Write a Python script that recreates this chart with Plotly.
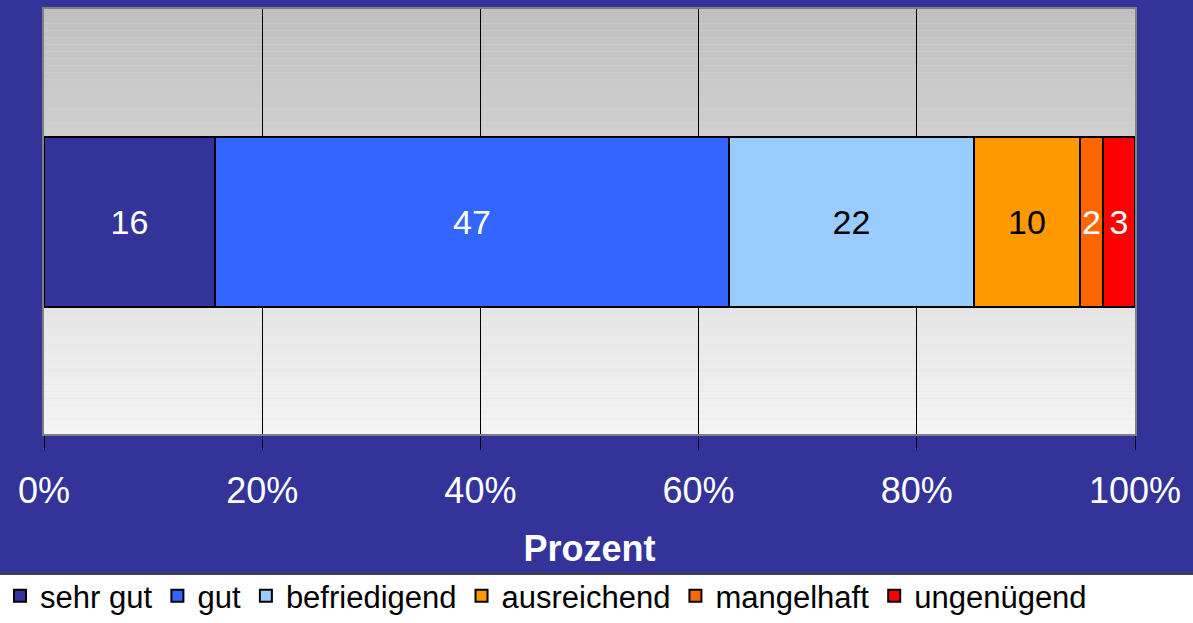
import plotly.graph_objects as go

categories = ["sehr gut", "gut", "befriedigend", "ausreichend", "mangelhaft", "ungenügend"]
values = [15.7, 47.1, 22.4, 9.8, 2.1, 2.9]
colors = ["#333399", "#3366FF", "#99CCFF", "#FF9900", "#FF6600", "#FF0000"]
text_colors = ["white", "white", "black", "black", "white", "white"]
tick_vals = [0, 20, 40, 60, 80, 100]
tick_text = ["0%", "20%", "40%", "60%", "80%", "100%"]
axis_title = "Prozent"

FONT = "Liberation Sans, Arial, sans-serif"
BG = "#333399"

fig = go.Figure()
for name, v, c, tc in zip(categories, values, colors, text_colors):
    fig.add_trace(go.Bar(
        y=["Row"], x=[v], name=name, orientation="h",
        marker=dict(color=c, line=dict(color="black", width=2)),
        width=0.4,
        texttemplate="%{x:.0f}", textposition="inside", insidetextanchor="middle",
        textfont=dict(color=tc, size=34, family=FONT),
        hoverinfo="skip",
    ))

# vertical gradient plot background (gray top -> light bottom)
shapes = []
n = 60
top = (0xC0, 0xC0, 0xC0)
bot = (0xF4, 0xF4, 0xF4)
for i in range(n):
    t = i / (n - 1)
    r = int(round(top[0] + (bot[0] - top[0]) * t))
    col = f"rgb({r},{r},{r})"
    y1 = 1 - i / n
    y0 = 1 - (i + 1) / n
    shapes.append(dict(type="rect", xref="paper", yref="paper", x0=0, x1=1,
                       y0=y0, y1=y1, fillcolor=col, line=dict(width=0), layer="below"))

# white legend strip at bottom
shapes.append(dict(type="rect", xref="paper", yref="paper", x0=-0.06, x1=1.08,
                   y0=-0.6, y1=-0.3294, fillcolor="white",
                   line=dict(width=0), layer="below"))
shapes.append(dict(type="line", xref="paper", yref="paper", x0=-0.06, x1=1.08,
                   y0=-0.3294, y1=-0.3294, line=dict(color="#404040", width=2),
                   layer="below"))

fig.update_layout(
    width=1193, height=623,
    barmode="stack",
    paper_bgcolor=BG, plot_bgcolor="#dddddd",
    margin=dict(l=44, r=58, t=9, b=189),
    font=dict(family=FONT, color="white"),
    shapes=shapes,
    bargap=0,
    showlegend=True,
    legend=dict(orientation="h", xref="container", yref="container",
                x=0.0, y=-0.025, xanchor="left", yanchor="bottom",
                font=dict(size=31, color="black", family=FONT),
                bgcolor="rgba(0,0,0,0)", traceorder="normal",
                tracegroupgap=0, borderwidth=0,
                itemclick=False, itemdoubleclick=False),
    uniformtext=dict(minsize=34, mode="show"),
)

fig.update_xaxes(
    range=[0, 100], tickvals=tick_vals, ticktext=tick_text,
    showgrid=True, gridcolor="black", gridwidth=1,
    ticks="outside", ticklen=14, tickcolor="black", tickwidth=1,
    tickfont=dict(size=36, color="white", family=FONT),
    ticklabelstandoff=10,
    showline=True, linecolor="#808080", linewidth=2, mirror=True,
    zeroline=False,
    automargin=False,
    title=dict(text="<b>" + axis_title + "</b>",
               font=dict(size=36, color="white", family=FONT), standoff=28),
)
fig.update_yaxes(
    range=[-0.5, 0.5], showticklabels=False, showgrid=False, ticks="",
    showline=True, linecolor="#808080", linewidth=2, mirror=True,
    automargin=False,
)

fig.write_html("out.html", config={"displayModeBar": False},
               post_script="document.body.style.margin='0';")
